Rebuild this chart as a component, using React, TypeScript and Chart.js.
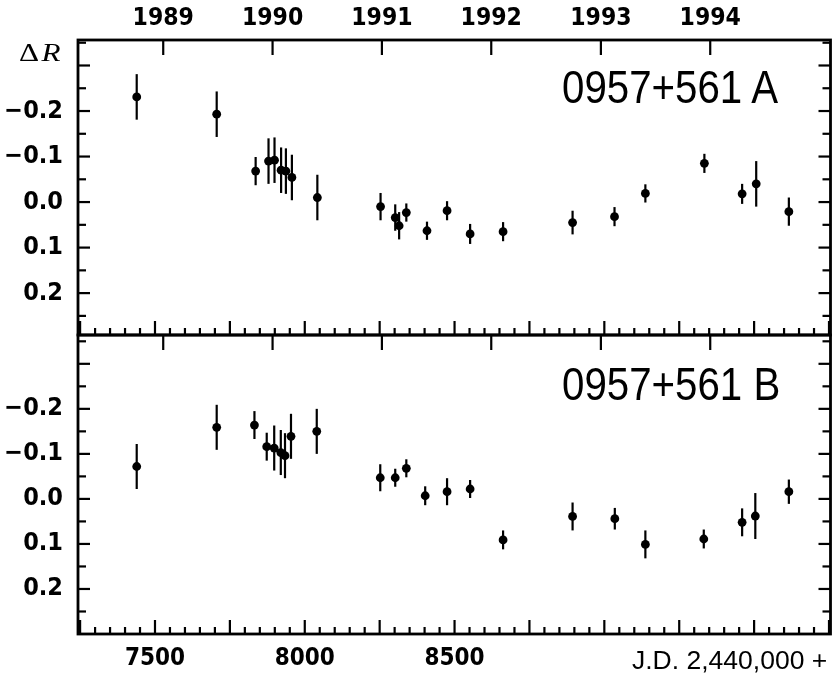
import React, { useEffect, useRef } from 'react';
import { Chart, registerables } from 'chart.js';

Chart.register(...registerables);

// ---- data (J.D. - 2,440,000 ; ΔR in mag ; 1σ error) ----
const epochsA = [7439, 7706, 7836, 7879, 7899, 7921, 7937, 7957, 8042, 8253, 8302, 8315, 8339, 8408, 8475, 8552, 8662, 8894, 9034, 9137, 9334, 9460, 9507, 9616];
const deltaA = [-0.231, -0.193, -0.068, -0.090, -0.092, -0.070, -0.068, -0.054, -0.010, 0.010, 0.034, 0.052, 0.023, 0.063, 0.019, 0.070, 0.065, 0.045, 0.032, -0.019, -0.085, -0.018, -0.040, 0.021];
const errA = [0.05, 0.05, 0.031, 0.05, 0.05, 0.05, 0.05, 0.05, 0.05, 0.03, 0.029, 0.03, 0.02, 0.02, 0.021, 0.022, 0.021, 0.026, 0.021, 0.02, 0.021, 0.022, 0.05, 0.031];

const epochsB = [7439, 7706, 7832, 7873, 7898, 7920, 7934, 7954, 8040, 8252, 8302, 8339, 8402, 8475, 8552, 8662, 8894, 9035, 9137, 9332, 9460, 9504, 9616];
const deltaB = [-0.072, -0.159, -0.164, -0.116, -0.113, -0.103, -0.096, -0.139, -0.150, -0.047, -0.047, -0.068, -0.007, -0.016, -0.022, 0.091, 0.039, 0.044, 0.101, 0.089, 0.052, 0.038, -0.016];
const errB = [0.05, 0.05, 0.031, 0.031, 0.05, 0.05, 0.05, 0.05, 0.05, 0.03, 0.02, 0.02, 0.021, 0.03, 0.02, 0.021, 0.031, 0.024, 0.031, 0.021, 0.031, 0.051, 0.027];

// ---- axes / ticks ----
const jdMin = 7243;
const jdMax = 9755;
const jdTickStart = 7250;
const jdTickEnd = 9750;
const jdTickStep = 50;
const jdMajorStep = 250;
const jdLabelValues = [7500, 8000, 8500];
const jdLabels = ['7500', '8000', '8500'];

const yearJD = [7527.5, 7892.5, 8257.5, 8622.5, 8988.5, 9353.5];
const yearLabels = ['1989', '1990', '1991', '1992', '1993', '1994'];

const yTickValues = [-0.35, -0.3, -0.25, -0.2, -0.15, -0.1, -0.05, 0, 0.05, 0.1, 0.15, 0.2, 0.25];
const yLabelValues = [-0.2, -0.1, 0, 0.1, 0.2];
const yLabels = ['\u22120.2', '\u22120.1', '0.0', '0.1', '0.2'];

const rangeA = [-0.356, 0.292];
const rangeB = [-0.364, 0.3];

const FONT = "'DejaVu Sans Condensed', 'DejaVu Sans', sans-serif";

function labelFor(values: number[], labels: string[], v: number) {
  for (let i = 0; i < values.length; i++) {
    if (Math.abs(values[i] - v) < 1e-6) return labels[i];
  }
  return '';
}

function jdTicks() {
  const out: { value: number }[] = [];
  for (let v = jdTickStart; v <= jdTickEnd; v += jdTickStep) out.push({ value: v });
  return out;
}

function fixSize(s: any, w: number | null, h: number | null) {
  if (w !== null) s.width = w;
  if (h !== null) s.height = h;
  s.paddingTop = 0;
  s.paddingBottom = 0;
  s.paddingLeft = 0;
  s.paddingRight = 0;
}

const framePlugin = {
  id: 'frameTicks',
  afterDraw(chart: any) {
    const { ctx, chartArea: a, scales } = chart;
    ctx.save();
    ctx.strokeStyle = '#000';
    ctx.lineCap = 'butt';
    ctx.lineWidth = 2.2;
    const seg = (x1: number, y1: number, x2: number, y2: number) => {
      ctx.beginPath();
      ctx.moveTo(x1, y1);
      ctx.lineTo(x2, y2);
      ctx.stroke();
    };
    const x = scales.x;
    for (const t of x.ticks) {
      const px = x.getPixelForValue(t.value);
      const len = Math.abs(t.value % jdMajorStep) < 1e-6 ? 14 : 7;
      seg(px, a.bottom, px, a.bottom - len);
    }
    const xt = scales.xTop;
    for (const t of xt.ticks) {
      const px = xt.getPixelForValue(t.value);
      seg(px, a.top, px, a.top + 15);
    }
    const y = scales.y;
    for (const t of y.ticks) {
      const py = y.getPixelForValue(t.value);
      const major = Math.abs(Math.round(t.value * 10) - t.value * 10) < 1e-6;
      const len = major ? 12 : 8;
      seg(a.left, py, a.left + len, py);
      seg(a.right, py, a.right - len, py);
    }
    ctx.lineWidth = 2.8;
    ctx.strokeRect(a.left, a.top, a.right - a.left, a.bottom - a.top);
    ctx.restore();
  },
};

function errorBarPlugin(errs: number[]) {
  return {
    id: 'errorBars',
    beforeDatasetsDraw(chart: any) {
      const { ctx, scales } = chart;
      const ds = chart.data.datasets[0].data as { x: number; y: number }[];
      ctx.save();
      ctx.strokeStyle = '#000';
      ctx.lineWidth = 2.2;
      ds.forEach((p, i) => {
        const px = scales.x.getPixelForValue(p.x);
        const y1 = scales.y.getPixelForValue(p.y - errs[i]);
        const y2 = scales.y.getPixelForValue(p.y + errs[i]);
        ctx.beginPath();
        ctx.moveTo(px, y1);
        ctx.lineTo(px, y2);
        ctx.stroke();
      });
      ctx.restore();
    },
  };
}

function makePanel(
  canvas: HTMLCanvasElement,
  epochs: number[],
  delta: number[],
  errs: number[],
  range: number[],
  top: boolean
) {
  const topH = top ? 40 : 15;
  const botH = top ? 15 : 43;
  return new Chart(canvas, {
    type: 'scatter',
    data: {
      datasets: [
        {
          data: epochs.map((e, i) => ({ x: e, y: delta[i] })),
          pointRadius: 4.4,
          pointBackgroundColor: '#000',
          pointBorderWidth: 0,
          showLine: false,
        },
      ],
    },
    options: {
      animation: false,
      responsive: false,
      devicePixelRatio: 1,
      events: [],
      layout: { autoPadding: false, padding: { left: 0, right: 1.5, top: 0, bottom: 0 } },
      plugins: { legend: { display: false }, tooltip: { enabled: false } },
      scales: {
        x: {
          type: 'linear',
          position: 'bottom',
          min: jdMin,
          max: jdMax,
          grid: { display: false, drawTicks: false },
          border: { display: false },
          afterBuildTicks: (s: any) => {
            s.ticks = jdTicks();
          },
          afterFit: (s: any) => fixSize(s, null, botH),
          ticks: {
            display: !top,
            autoSkip: false,
            maxRotation: 0,
            padding: 10,
            color: '#000',
            font: { family: FONT, weight: 'bold', size: 24 },
            callback: (v: any) => labelFor(jdLabelValues, jdLabels, Number(v)),
          },
        },
        xTop: {
          type: 'linear',
          position: 'top',
          min: jdMin,
          max: jdMax,
          grid: { display: false, drawTicks: false },
          border: { display: false },
          afterBuildTicks: (s: any) => {
            s.ticks = yearJD.map((v) => ({ value: v }));
          },
          afterFit: (s: any) => fixSize(s, null, topH),
          ticks: {
            display: top,
            autoSkip: false,
            maxRotation: 0,
            padding: 7,
            color: '#000',
            font: { family: FONT, weight: 'bold', size: 24.5 },
            callback: (v: any) => labelFor(yearJD, yearLabels, Number(v)),
          },
        },
        y: {
          type: 'linear',
          position: 'left',
          reverse: true,
          min: range[0],
          max: range[1],
          grid: { display: false, drawTicks: false },
          border: { display: false },
          afterBuildTicks: (s: any) => {
            s.ticks = yTickValues.map((v) => ({ value: v }));
          },
          afterFit: (s: any) => fixSize(s, 78, null),
          ticks: {
            autoSkip: false,
            padding: 15,
            color: '#000',
            font: { family: FONT, weight: 'bold', size: 25 },
            callback: (v: any) => labelFor(yLabelValues, yLabels, Number(v)),
          },
        },
      },
    } as any,
    plugins: [errorBarPlugin(errs), framePlugin],
  });
}

export default function App() {
  const refA = useRef<HTMLCanvasElement>(null);
  const refB = useRef<HTMLCanvasElement>(null);

  useEffect(() => {
    const a = makePanel(refA.current!, epochsA, deltaA, errA, rangeA, true);
    const b = makePanel(refB.current!, epochsB, deltaB, errB, rangeB, false);
    return () => {
      a.destroy();
      b.destroy();
    };
  }, []);

  const bigLabel: React.CSSProperties = {
    position: 'absolute',
    left: 562,
    fontFamily: "'Liberation Sans', Arial, sans-serif",
    fontSize: 46,
    lineHeight: '46px',
    whiteSpace: 'nowrap',
    transform: 'scaleX(0.875)',
    transformOrigin: 'left top',
    color: '#000',
  };

  return (
    <div style={{ position: 'fixed', left: 0, top: 0, width: 832, height: 677, background: '#fff', overflow: 'hidden' }}>
      <canvas ref={refA} width={832} height={350} style={{ position: 'absolute', left: 0, top: 0, width: 832, height: 350 }} />
      <canvas ref={refB} width={832} height={357} style={{ position: 'absolute', left: 0, top: 320, width: 832, height: 357 }} />
      <div
        style={{
          position: 'absolute',
          left: 19,
          top: 40,
          fontFamily: "'Liberation Serif', 'DejaVu Serif', serif",
          fontSize: 26,
          lineHeight: '26px',
          letterSpacing: 2,
          color: '#000',
          whiteSpace: 'nowrap',
          transform: 'scaleX(1.2)',
          transformOrigin: 'left top',
        }}
      >
        <span>Δ</span>
        <i>R</i>
      </div>
      <div style={{ ...bigLabel, top: 64 }}>0957+561 A</div>
      <div style={{ ...bigLabel, top: 361 }}>0957+561 B</div>
      <div
        style={{
          position: 'absolute',
          left: 632,
          top: 647,
          fontFamily: "'Liberation Sans', Arial, sans-serif",
          fontSize: 26.5,
          lineHeight: '27px',
          color: '#000',
          whiteSpace: 'nowrap',
        }}
      >
        J.D. 2,440,000 +
      </div>
    </div>
  );
}
